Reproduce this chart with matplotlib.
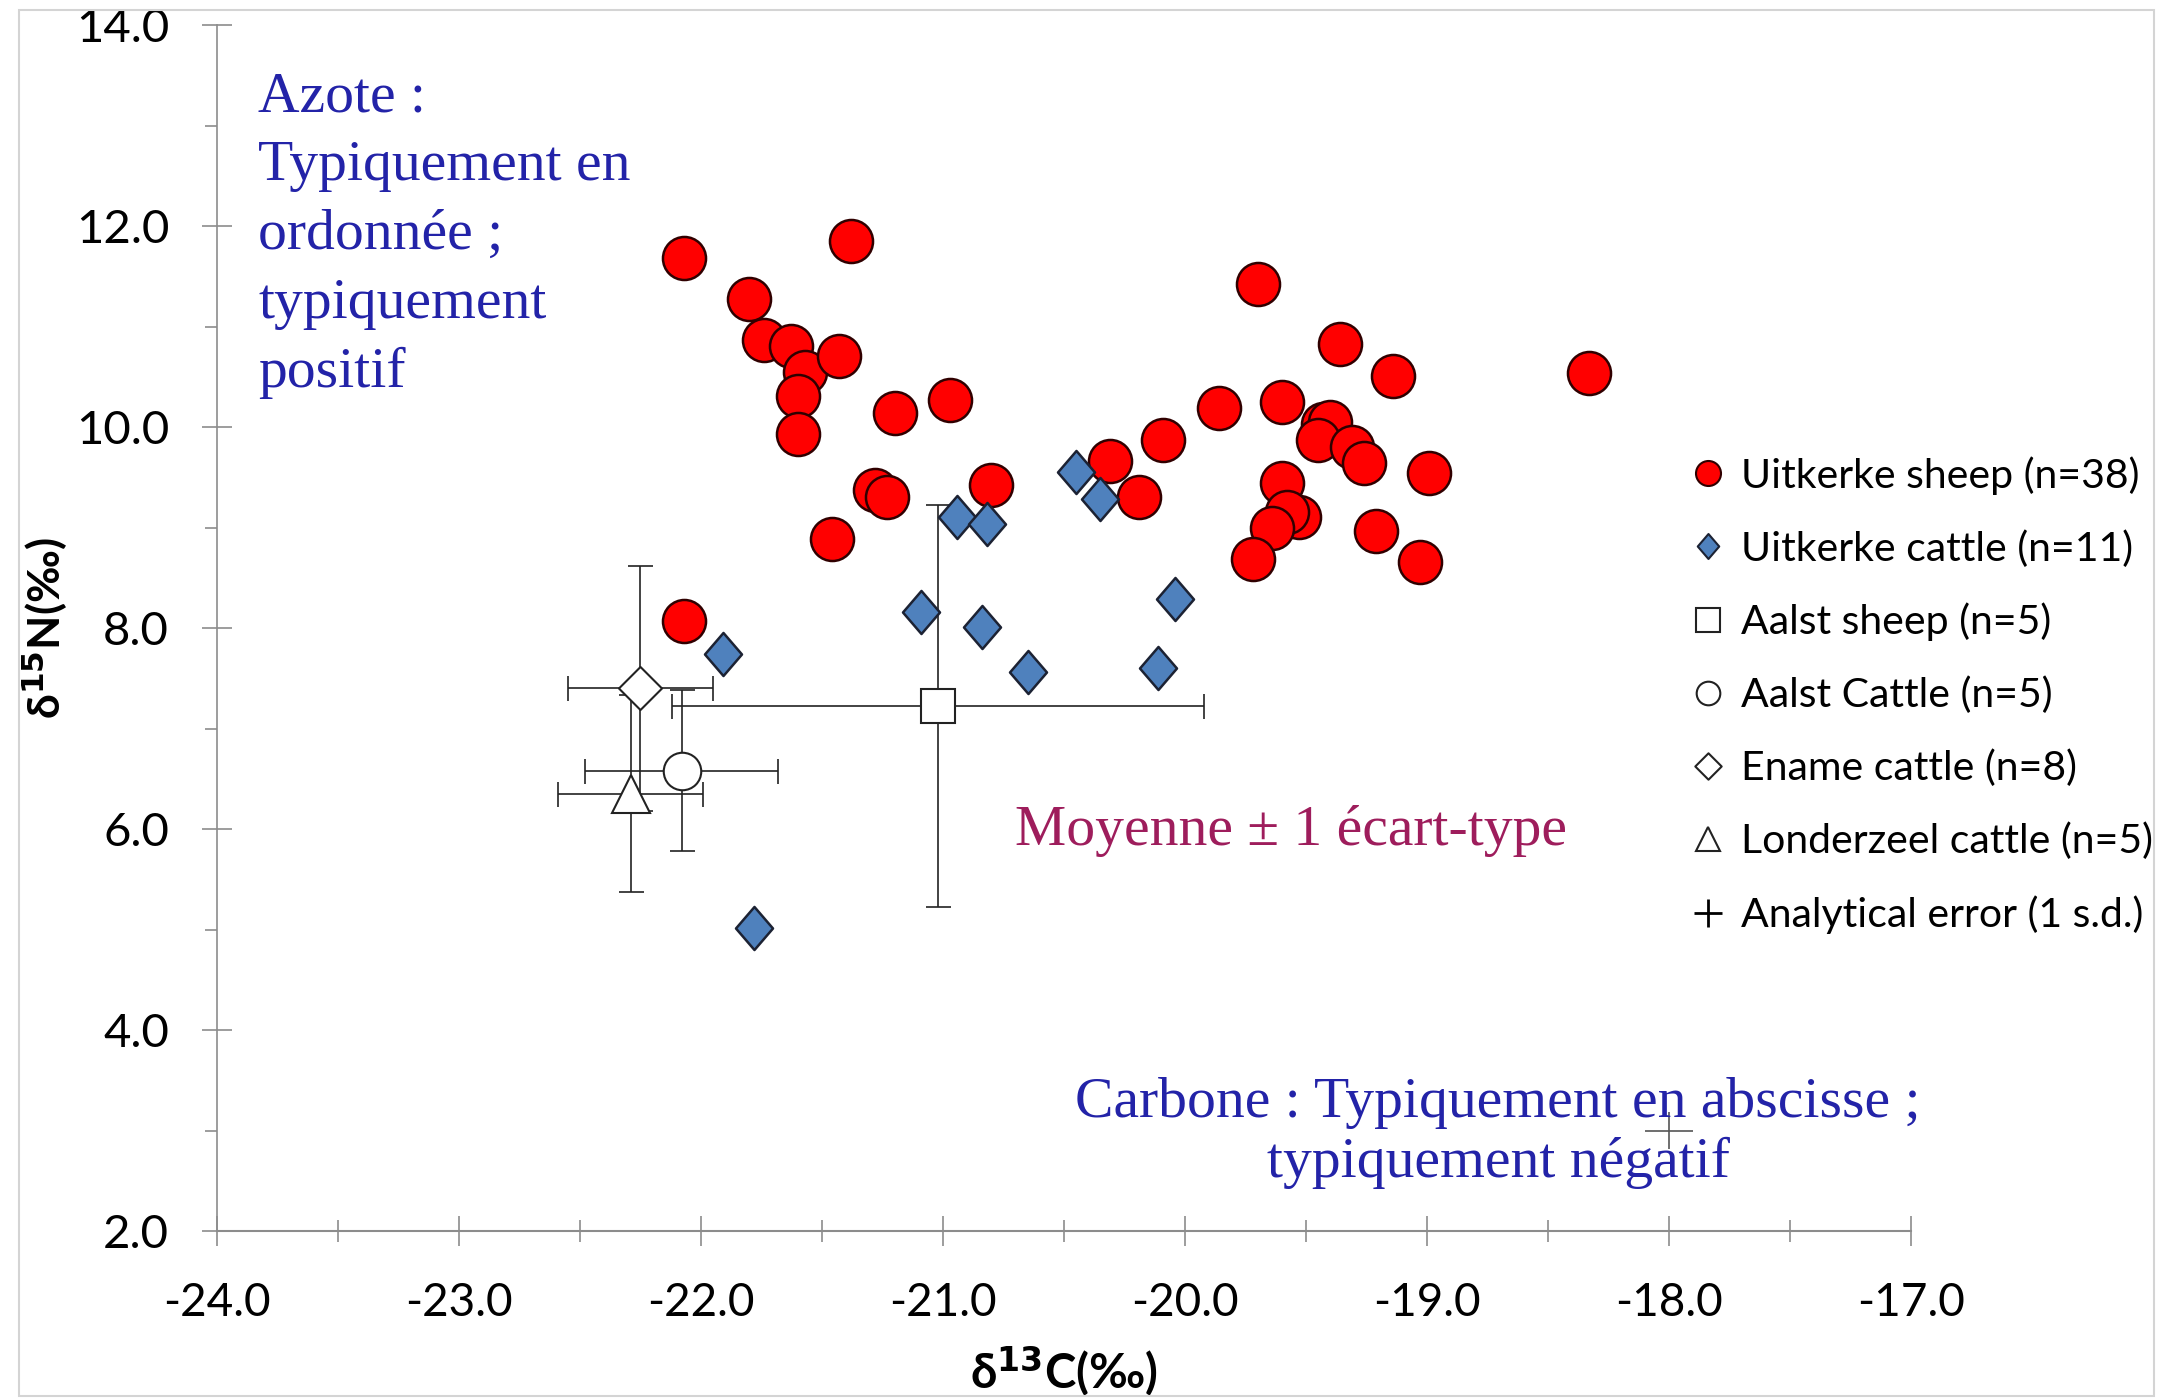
import numpy as np
import matplotlib
matplotlib.use("Agg")
import matplotlib.pyplot as plt
from matplotlib.lines import Line2D
from matplotlib.patches import Rectangle
from matplotlib.path import Path

plt.rcParams['font.family'] = ['Lato', 'DejaVu Sans']
plt.rcParams['axes.unicode_minus'] = False

# Uitkerke sheep (delta13C, delta15N)
sheep_c = [-22.07, -21.38, -21.80, -21.74, -21.63, -21.57, -21.43, -21.60, -21.60,
           -21.20, -20.97, -21.28, -21.23, -20.80, -21.46, -22.07,
           -20.31, -20.19, -20.09, -19.86, -19.70, -19.60, -19.36, -19.14, -18.33,
           -19.43, -19.40, -19.45, -19.31, -19.26, -18.99, -19.60, -19.53, -19.58,
           -19.64, -19.72, -19.21, -19.03]
sheep_n = [11.68, 11.85, 11.27, 10.87, 10.81, 10.55, 10.71, 10.31, 9.93,
           10.14, 10.27, 9.37, 9.30, 9.42, 8.89, 8.07,
           9.66, 9.30, 9.87, 10.19, 11.42, 10.25, 10.83, 10.51, 10.54,
           10.03, 10.05, 9.87, 9.80, 9.64, 9.54, 9.44, 9.10, 9.15,
           9.00, 8.69, 8.97, 8.66]

# Uitkerke cattle
cattle_c = [-20.45, -20.35, -20.94, -20.82, -21.09, -20.84, -20.65, -20.04, -20.11, -21.91, -21.78]
cattle_n = [9.55, 9.28, 9.10, 9.04, 8.16, 8.01, 7.56, 8.29, 7.60, 7.74, 5.02]

# group means +/- 1 sd: Aalst sheep, Aalst cattle, Ename cattle, Londerzeel cattle
group_names = ['Aalst sheep (n=5)', 'Aalst Cattle (n=5)', 'Ename cattle (n=8)', 'Londerzeel cattle (n=5)']
group_c = [-21.02, -22.08, -22.25, -22.29]
group_n = [7.22, 6.58, 7.40, 6.35]
group_c_sd = [1.10, 0.40, 0.30, 0.30]
group_n_sd = [2.00, 0.80, 1.22, 0.98]

# analytical error
err_c, err_n = -18.0, 3.0
err_c_sd, err_n_sd = 0.10, 0.18

x_ticks = np.arange(-24, -16.5, 1.0)
y_ticks = np.arange(2, 14.5, 2.0)

fig = plt.figure(figsize=(21.72, 14), dpi=100)
ax = fig.add_axes([0.0999, 0.1207, 0.7799, 0.8614])

fig.patches.append(Rectangle((0.0088, 0.003), 0.983, 0.990, transform=fig.transFigure,
                             fill=False, edgecolor='#d4d4d4', linewidth=1.5))

tall_diamond = Path([(0, 1), (0.86, 0), (0, -1), (-0.86, 0), (0, 1)],
                    [Path.MOVETO, Path.LINETO, Path.LINETO, Path.LINETO, Path.CLOSEPOLY])
diamond = Path([(0, 1), (1, 0), (0, -1), (-1, 0), (0, 1)],
               [Path.MOVETO, Path.LINETO, Path.LINETO, Path.LINETO, Path.CLOSEPOLY])

group_markers = ['s', 'o', diamond, '^']
group_sizes = [24, 27, 31, 28]

for c, n, cs, ns, m, ms in zip(group_c, group_n, group_c_sd, group_n_sd, group_markers, group_sizes):
    ax.errorbar(c, n, xerr=cs, yerr=ns, fmt='none', ecolor='#222222', elinewidth=1.2,
                capsize=9, capthick=1.2, zorder=2)
    ax.plot(c, n, marker=m, markersize=ms, markerfacecolor='white', markeredgecolor='#222222',
            markeredgewidth=1.5, linestyle='none', zorder=5)

ax.errorbar(err_c, err_n, xerr=err_c_sd, yerr=err_n_sd, fmt='none', ecolor='#555555',
            elinewidth=1.2, capsize=0, zorder=2)

ax.plot(sheep_c, sheep_n, marker='o', markersize=31, markerfacecolor='#ff0000',
        markeredgecolor='#300000', markeredgewidth=1.8, linestyle='none', zorder=3)
ax.plot(cattle_c, cattle_n, marker=tall_diamond, markersize=31, markerfacecolor='#4f81bd',
        markeredgecolor='#1c2233', markeredgewidth=1.8, linestyle='none', zorder=4)

ax.set_xlim(-24, -17)
ax.set_ylim(2, 14)
ax.set_xticks(x_ticks)
ax.set_yticks(y_ticks)
ax.set_xticks(np.arange(-23.5, -17, 1.0), minor=True)
ax.set_yticks(np.arange(3, 14, 2.0), minor=True)
ax.set_xticklabels(['%.1f' % v for v in x_ticks])
ax.set_yticklabels(['%.1f' % v for v in y_ticks])

for s in ['top', 'right']:
    ax.spines[s].set_visible(False)
for s in ['left', 'bottom']:
    ax.spines[s].set_color('#8c8c8c')
    ax.spines[s].set_linewidth(1.5)
ax.spines['left'].set_linewidth(1.2)

ax.tick_params(axis='both', which='major', direction='inout', length=21, width=1.2,
               color='#8c8c8c', labelcolor='black')
ax.tick_params(axis='y', which='major', pad=24, labelsize=34)
ax.tick_params(axis='x', which='major', pad=26, labelsize=33)
ax.tick_params(axis='y', which='minor', direction='out', length=9, width=1.2, color='#8c8c8c')
ax.tick_params(axis='x', which='minor', direction='inout', length=16, width=1.2, color='#8c8c8c')

ax.set_xlabel('δ$^{\\mathbf{13}}$C(‰)', fontsize=34, fontweight='bold')
ax.set_ylabel('δ$^{\\mathbf{15}}$N(‰)', fontsize=32, fontweight='bold')
ax.xaxis.set_label_coords(0.5, -0.094)
ax.yaxis.set_label_coords(-0.087, 0.5)

blue = '#2323a8'
azote = ['Azote :', 'Typiquement en', 'ordonnée ;', 'typiquement', 'positif']
for i, line in enumerate(azote):
    fig.text(0.1190, 0.9207 - i * 0.0493, line, fontsize=41.5, color=blue,
             family='Liberation Serif', va='baseline', ha='left')
fig.text(0.6897, 0.2021, 'Carbone : Typiquement en abscisse ;', fontsize=41.5, color=blue,
         family='Liberation Serif', va='baseline', ha='center')
fig.text(0.6897, 0.1593, 'typiquement négatif', fontsize=41.5, color=blue,
         family='Liberation Serif', va='baseline', ha='center')
fig.text(0.4673, 0.3964, 'Moyenne ± 1 écart-type', fontsize=41.5, color='#9e1d5c',
         family='Liberation Serif', va='baseline', ha='left')

handles = [
    Line2D([], [], marker='o', linestyle='none', markersize=18, markerfacecolor='#ff0000',
           markeredgecolor='#300000', markeredgewidth=1.5),
    Line2D([], [], marker=tall_diamond, linestyle='none', markersize=18, markerfacecolor='#4f81bd',
           markeredgecolor='#1c2233', markeredgewidth=1.5),
]
labels = ['Uitkerke sheep (n=38)', 'Uitkerke cattle (n=11)']
for m, name in zip(group_markers, group_names):
    handles.append(Line2D([], [], marker=m, linestyle='none', markersize=17 if m != diamond else 19,
                          markerfacecolor='white', markeredgecolor='#222222', markeredgewidth=1.5))
    labels.append(name)
handles.append(Line2D([], [], marker='+', linestyle='none', markersize=20,
                      markeredgecolor='black', markeredgewidth=2))
labels.append('Analytical error (1 s.d.)')

fig.legend(handles, labels, loc='upper left', bbox_to_anchor=(1688 / 2172, 1 - 456 / 1400),
           frameon=False, fontsize=29.5, handlelength=1.0, handletextpad=0.3,
           labelspacing=0.86, borderpad=0, borderaxespad=0)

fig.savefig('out.png', dpi=100)
